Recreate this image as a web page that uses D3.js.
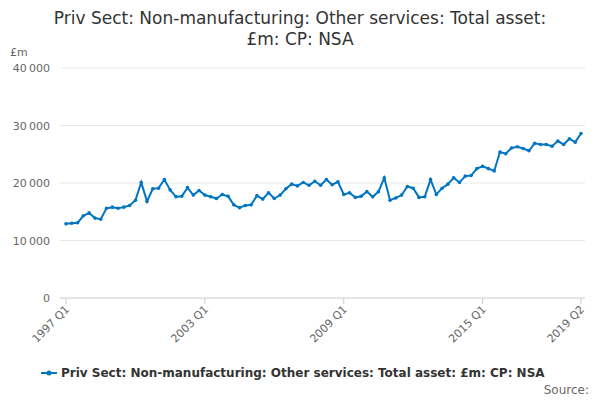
<!DOCTYPE html>
<html><head><meta charset="utf-8">
<script src="https://cdn.jsdelivr.net/npm/d3@7"></script>
<style>body{margin:0;font-family:"DejaVu Sans",sans-serif;background:#fff}</style>
</head><body><svg id="root" width="600" height="400"></svg>
<script>
const years = d3.range(1997, 2020);
const values = [
  12.9, 13.0, 13.1, 14.3, 14.8, 13.9, 13.7, 15.6, 15.8, 15.6, 15.8, 16.1,
  17.0, 20.1, 16.8, 19.0, 19.1, 20.6, 18.8, 17.6, 17.7, 19.2, 17.9, 18.7,
  17.9, 17.6, 17.3, 18.0, 17.7, 16.2, 15.7, 16.1, 16.2, 17.8, 17.2, 18.3,
  17.3, 17.9, 19.0, 19.8, 19.5, 20.1, 19.6, 20.3, 19.6, 20.6, 19.7, 20.2,
  18.0, 18.3, 17.5, 17.7, 18.5, 17.6, 18.5, 20.9, 17.0, 17.4, 17.9, 19.4,
  19.1, 17.5, 17.6, 20.6, 18.0, 19.1, 19.8, 20.9, 20.1, 21.2, 21.3, 22.5,
  22.9, 22.5, 22.1, 25.4, 25.1, 26.1, 26.3, 26.0, 25.6, 26.9, 26.7, 26.7,
  26.4, 27.3, 26.7, 27.7, 27.1, 28.6
].map(v => v * 1000);
const labels = [];
years.forEach(y => [1, 2, 3, 4].forEach(q => labels.push(`${y} Q${q}`)));
const data = values.map((v, i) => ({ label: labels[i], value: v }));
const tickLabels = ["1997 Q1", "2003 Q1", "2009 Q1", "2015 Q1", "2019 Q2"];
const yTicks = [0, 10000, 20000, 30000, 40000];

const svg = d3.select("#root");
const color = "#0075c2";
const x = d3.scalePoint().domain(data.map(d => d.label)).range([66, 581]);
const y = d3.scaleLinear().domain([0, 40000]).range([298, 68]);
const fmt = v => d3.format(",")(v).replace(/,/g, "\u2009");

svg.append("text").attr("x", 300).attr("y", 24).attr("text-anchor", "middle")
  .attr("font-size", 17).attr("fill", "#333").text("Priv Sect: Non-manufacturing: Other services: Total asset:");
svg.append("text").attr("x", 300).attr("y", 45).attr("text-anchor", "middle")
  .attr("font-size", 17).attr("fill", "#333").text("£m: CP: NSA");
svg.append("text").attr("x", 10).attr("y", 56).attr("font-size", 11).attr("fill", "#666").text("£m");

svg.append("g").selectAll("line").data(yTicks).join("line")
  .attr("x1", 60).attr("x2", 585).attr("y1", d => y(d)).attr("y2", d => y(d))
  .attr("stroke", d => d === 0 ? "#ccc" : "#e6e6e6");
svg.append("g").selectAll("text").data(yTicks).join("text")
  .attr("x", 50).attr("y", d => y(d) + 4).attr("text-anchor", "end")
  .attr("font-size", 11).attr("fill", "#666").text(fmt);

svg.append("g").selectAll("line").data(tickLabels).join("line")
  .attr("x1", d => x(d)).attr("x2", d => x(d)).attr("y1", 298).attr("y2", 304).attr("stroke", "#ccc");
svg.append("g").selectAll("text").data(tickLabels).join("text")
  .attr("transform", d => `translate(${x(d) + 4},${310}) rotate(-45)`)
  .attr("text-anchor", "end").attr("font-size", 11).attr("fill", "#666").text(d => d);

svg.append("path").datum(data)
  .attr("d", d3.line().x(d => x(d.label)).y(d => y(d.value)))
  .attr("fill", "none").attr("stroke", color).attr("stroke-width", 2);
svg.append("g").selectAll("circle").data(data).join("circle")
  .attr("cx", d => x(d.label)).attr("cy", d => y(d.value)).attr("r", 1.8).attr("fill", color);

const lg = svg.append("g").attr("transform", "translate(41,373)");
lg.append("line").attr("x1", 0).attr("x2", 16).attr("stroke", color).attr("stroke-width", 2);
lg.append("circle").attr("cx", 8).attr("r", 2.5).attr("fill", color);
lg.append("text").attr("x", 20).attr("y", 4).attr("font-size", 12).attr("font-weight", "bold")
  .attr("fill", "#333").text("Priv Sect: Non-manufacturing: Other services: Total asset: £m: CP: NSA");
svg.append("text").attr("x", 589).attr("y", 394).attr("text-anchor", "end")
  .attr("font-size", 12).attr("fill", "#666").text("Source:");
</script></body></html>
